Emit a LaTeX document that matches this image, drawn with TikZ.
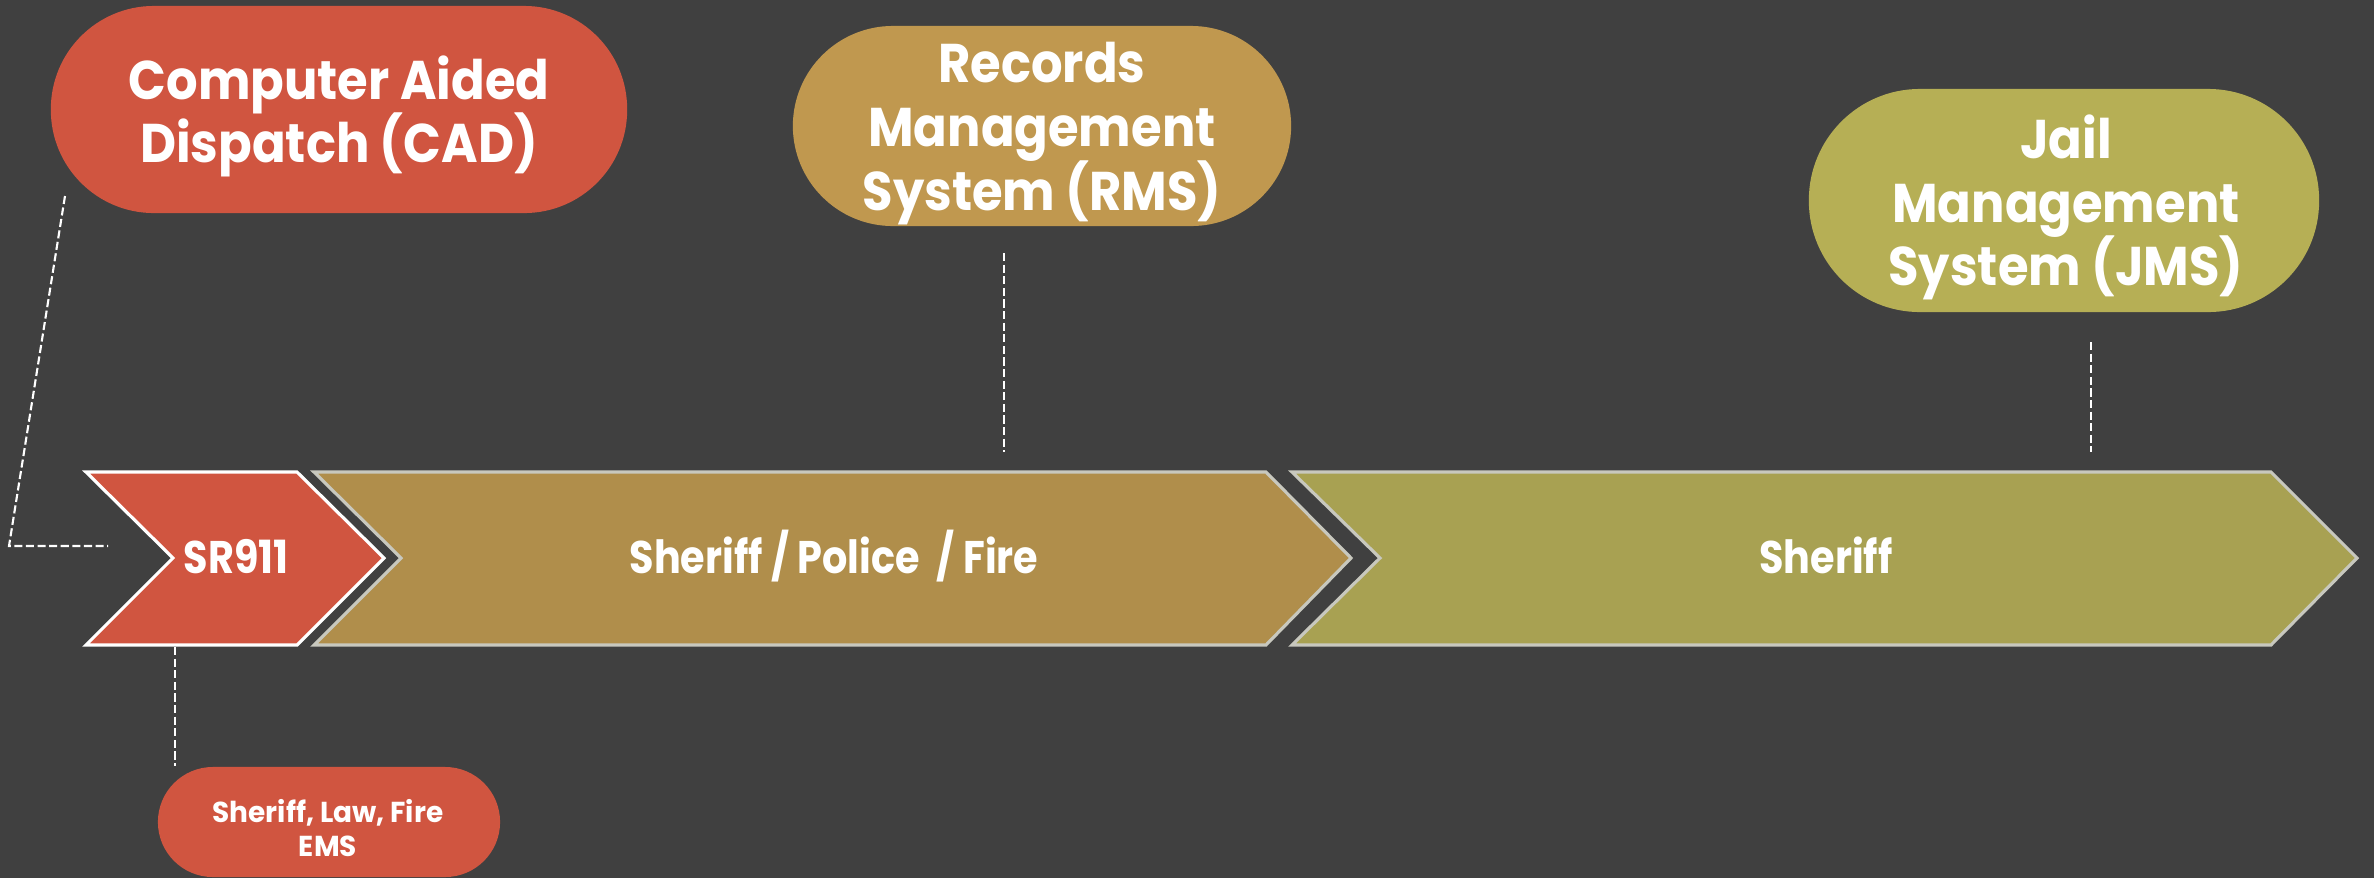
\documentclass[tikz,border=0pt]{standalone}
\usepackage{fontspec}
\setmainfont{Poppins}
\newfontfamily\popP{Poppins Bold}[FakeStretch=0.91]
\newfontfamily\popC{Poppins Bold}[FakeStretch=0.87]
\newfontfamily\popS{Poppins Bold}[FakeStretch=0.97]
\definecolor{bg}{HTML}{404040}
\definecolor{cadred}{HTML}{D05540}
\definecolor{rmsgold}{HTML}{C0984F}
\definecolor{polgold}{HTML}{B08E4B}
\definecolor{jmsolive}{HTML}{B6AF55}
\definecolor{sherolive}{HTML}{A8A152}
\definecolor{edgegray}{HTML}{C8C8BE}
\tikzset{
  pill/.style={rectangle, inner sep=0pt},
  bigtext/.style={text=white, anchor=base, inner sep=0pt, font=\popP\fontsize{15.5}{18}\selectfont},
  smalltext/.style={text=white, anchor=base, inner sep=0pt, font=\popS\fontsize{8.2}{10}\selectfont},
  chev/.style={line width=0.9pt, line join=miter},
  chevtext/.style={text=white, anchor=base, font=\popC\fontsize{13}{15}\selectfont, inner sep=0pt},
  leader/.style={draw=white, line width=0.6pt, dash pattern=on 2.3pt off 1.0pt}
}
\begin{document}
\begin{tikzpicture}[x=0.01cm,y=-0.01cm]
\fill[bg] (0,0) rectangle (2374,878);
\useasboundingbox (0,0) rectangle (2374,878);
% pills
\node[pill, fill=cadred, minimum width=5.76cm, minimum height=2.07cm, rounded corners=1.03cm] (cad) at (339,109.5) {};
\node[bigtext] (cadA) at (339,99) {Computer Aided};
\node[bigtext] (cadB) at (339,162) {Dispatch (CAD)};
\node[pill, fill=rmsgold, minimum width=4.98cm, minimum height=2.0cm, rounded corners=1.0cm] (rms) at (1042,126) {};
\node[bigtext] (rmsA) at (1042,82) {Records};
\node[bigtext] (rmsB) at (1042,146) {Management};
\node[bigtext] (rmsC) at (1042,210) {System (RMS)};
\node[pill, fill=jmsolive, minimum width=5.10cm, minimum height=2.23cm, rounded corners=1.11cm] (jms) at (2064,200.5) {};
\node[bigtext] (jmsA) at (2066,158) {Jail};
\node[bigtext] (jmsB) at (2066,222) {Management};
\node[bigtext] (jmsC) at (2066,285) {System (JMS)};
\node[pill, fill=cadred, minimum width=3.42cm, minimum height=1.10cm, rounded corners=0.55cm] (ems) at (329,822) {};
\node[smalltext] (emsA) at (328,822) {Sheriff, Law, Fire};
\node[smalltext] (emsB) at (328,856) {EMS};
% chevrons
\filldraw[chev, fill=cadred, draw=white] (86,472) -- (297,472) -- (384,558) -- (297,645) -- (86,645) -- (173,558) -- cycle;
\node[chevtext] (sr) at (236,573) {SR911};
\filldraw[chev, fill=polgold, draw=edgegray] (314,472) -- (1266,472) -- (1351,558) -- (1266,645) -- (314,645) -- (401,558) -- cycle;
\node[chevtext] (pol) at (834,573) {Sheriff / Police \ / Fire};
\filldraw[chev, fill=sherolive, draw=edgegray] (1292,472) -- (2271,472) -- (2357,558) -- (2271,645) -- (1292,645) -- (1380,558) -- cycle;
\node[chevtext] (sher) at (1826,573) {Sheriff};
% leaders
\coordinate (c1) at (65,196);
\coordinate (c2) at (9,546);
\coordinate (c3) at (108,546);
\draw[leader] (c1) -- (c2) -- (c3);
\coordinate (r1) at (1004,253);
\coordinate (r2) at (1004,452);
\draw[leader] (r1) -- (r2);
\coordinate (j1) at (2091,342);
\coordinate (j2) at (2091,452);
\draw[leader] (j1) -- (j2);
\coordinate (s1) at (175,647);
\coordinate (s2) at (175,766);
\draw[leader] (s1) -- (s2);
\end{tikzpicture}
\end{document}
